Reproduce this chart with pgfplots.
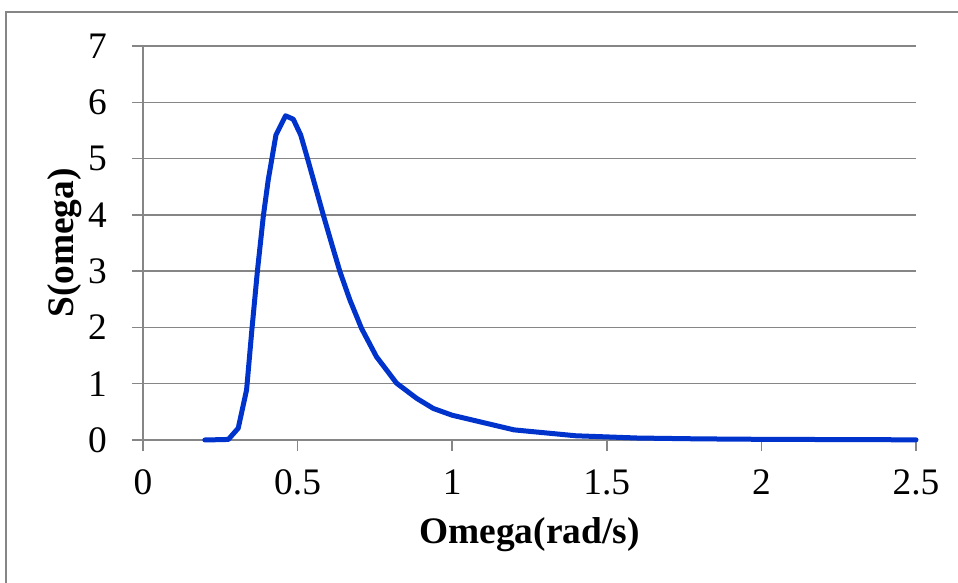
\documentclass[border=0pt]{standalone}
\usepackage{fontspec}
\setmainfont{Liberation Serif}
\usepackage{pgfplots}
\pgfplotsset{compat=1.18}
\definecolor{curveblue}{RGB}{0,51,204}
\definecolor{gridgray}{RGB}{134,134,134}
\begin{document}
\begin{tikzpicture}
% picture frame, 1px = 0.5pt, axis origin at (0,0)
\path[use as bounding box] (-71.5pt,-71.5pt) rectangle (407.5pt,220pt);
\draw[gridgray, line width=0.8pt] (-68.5pt,-75pt) -- (-68.5pt,214pt) -- (410pt,214pt);
\begin{axis}[
    at={(0,0)}, anchor=origin,
    scale only axis,
    width=386.5pt, height=197pt,
    xmin=0, xmax=2.5, ymin=0, ymax=7,
    xtick={0,0.5,...,2.5},
    ytick={0,1,...,7},
    xticklabels={0,0.5,1,1.5,2,2.5},
    /pgf/number format/assume math mode=true,
    axis x line*=bottom,
    axis y line*=left,
    axis line style={gridgray, line width=0.75pt, -},
    tick style={gridgray, line width=0.75pt},
    tick align=outside,
    major tick length=5.5pt,
    ymajorgrids,
    grid style={gridgray, line width=0.75pt},
    tick label style={font=\fontsize{18.7}{20}\selectfont, text=black},
    xticklabel style={yshift=-6pt},
    yticklabel style={xshift=-9pt},
    xlabel={Omega(rad/s)},
    ylabel={S(omega)},
    label style={font=\fontsize{18.7}{20}\selectfont\bfseries},
    xlabel style={at={(axis description cs:0.5,-0.241)}, anchor=center},
    ylabel style={at={(axis description cs:-0.101,0.5)}, anchor=center},
    clip=false,
]
\addplot[curveblue, line width=2.5pt, line join=round, line cap=round] coordinates {
(0.2,0) (0.276,0.01) (0.308,0.21) (0.335,0.89) (0.352,1.95) (0.370,3.0)
(0.389,3.97) (0.405,4.62) (0.430,5.42) (0.461,5.76) (0.486,5.70)
(0.510,5.42) (0.529,5.06) (0.556,4.53) (0.583,4.0) (0.610,3.49)
(0.637,2.99) (0.669,2.49) (0.707,1.98) (0.755,1.48) (0.820,1.01)
(0.885,0.74) (0.939,0.56) (1.0,0.44) (1.2,0.18) (1.4,0.075)
(1.6,0.035) (1.8,0.02) (2.0,0.012) (2.5,0.003)
};
\end{axis}
\end{tikzpicture}
\end{document}
